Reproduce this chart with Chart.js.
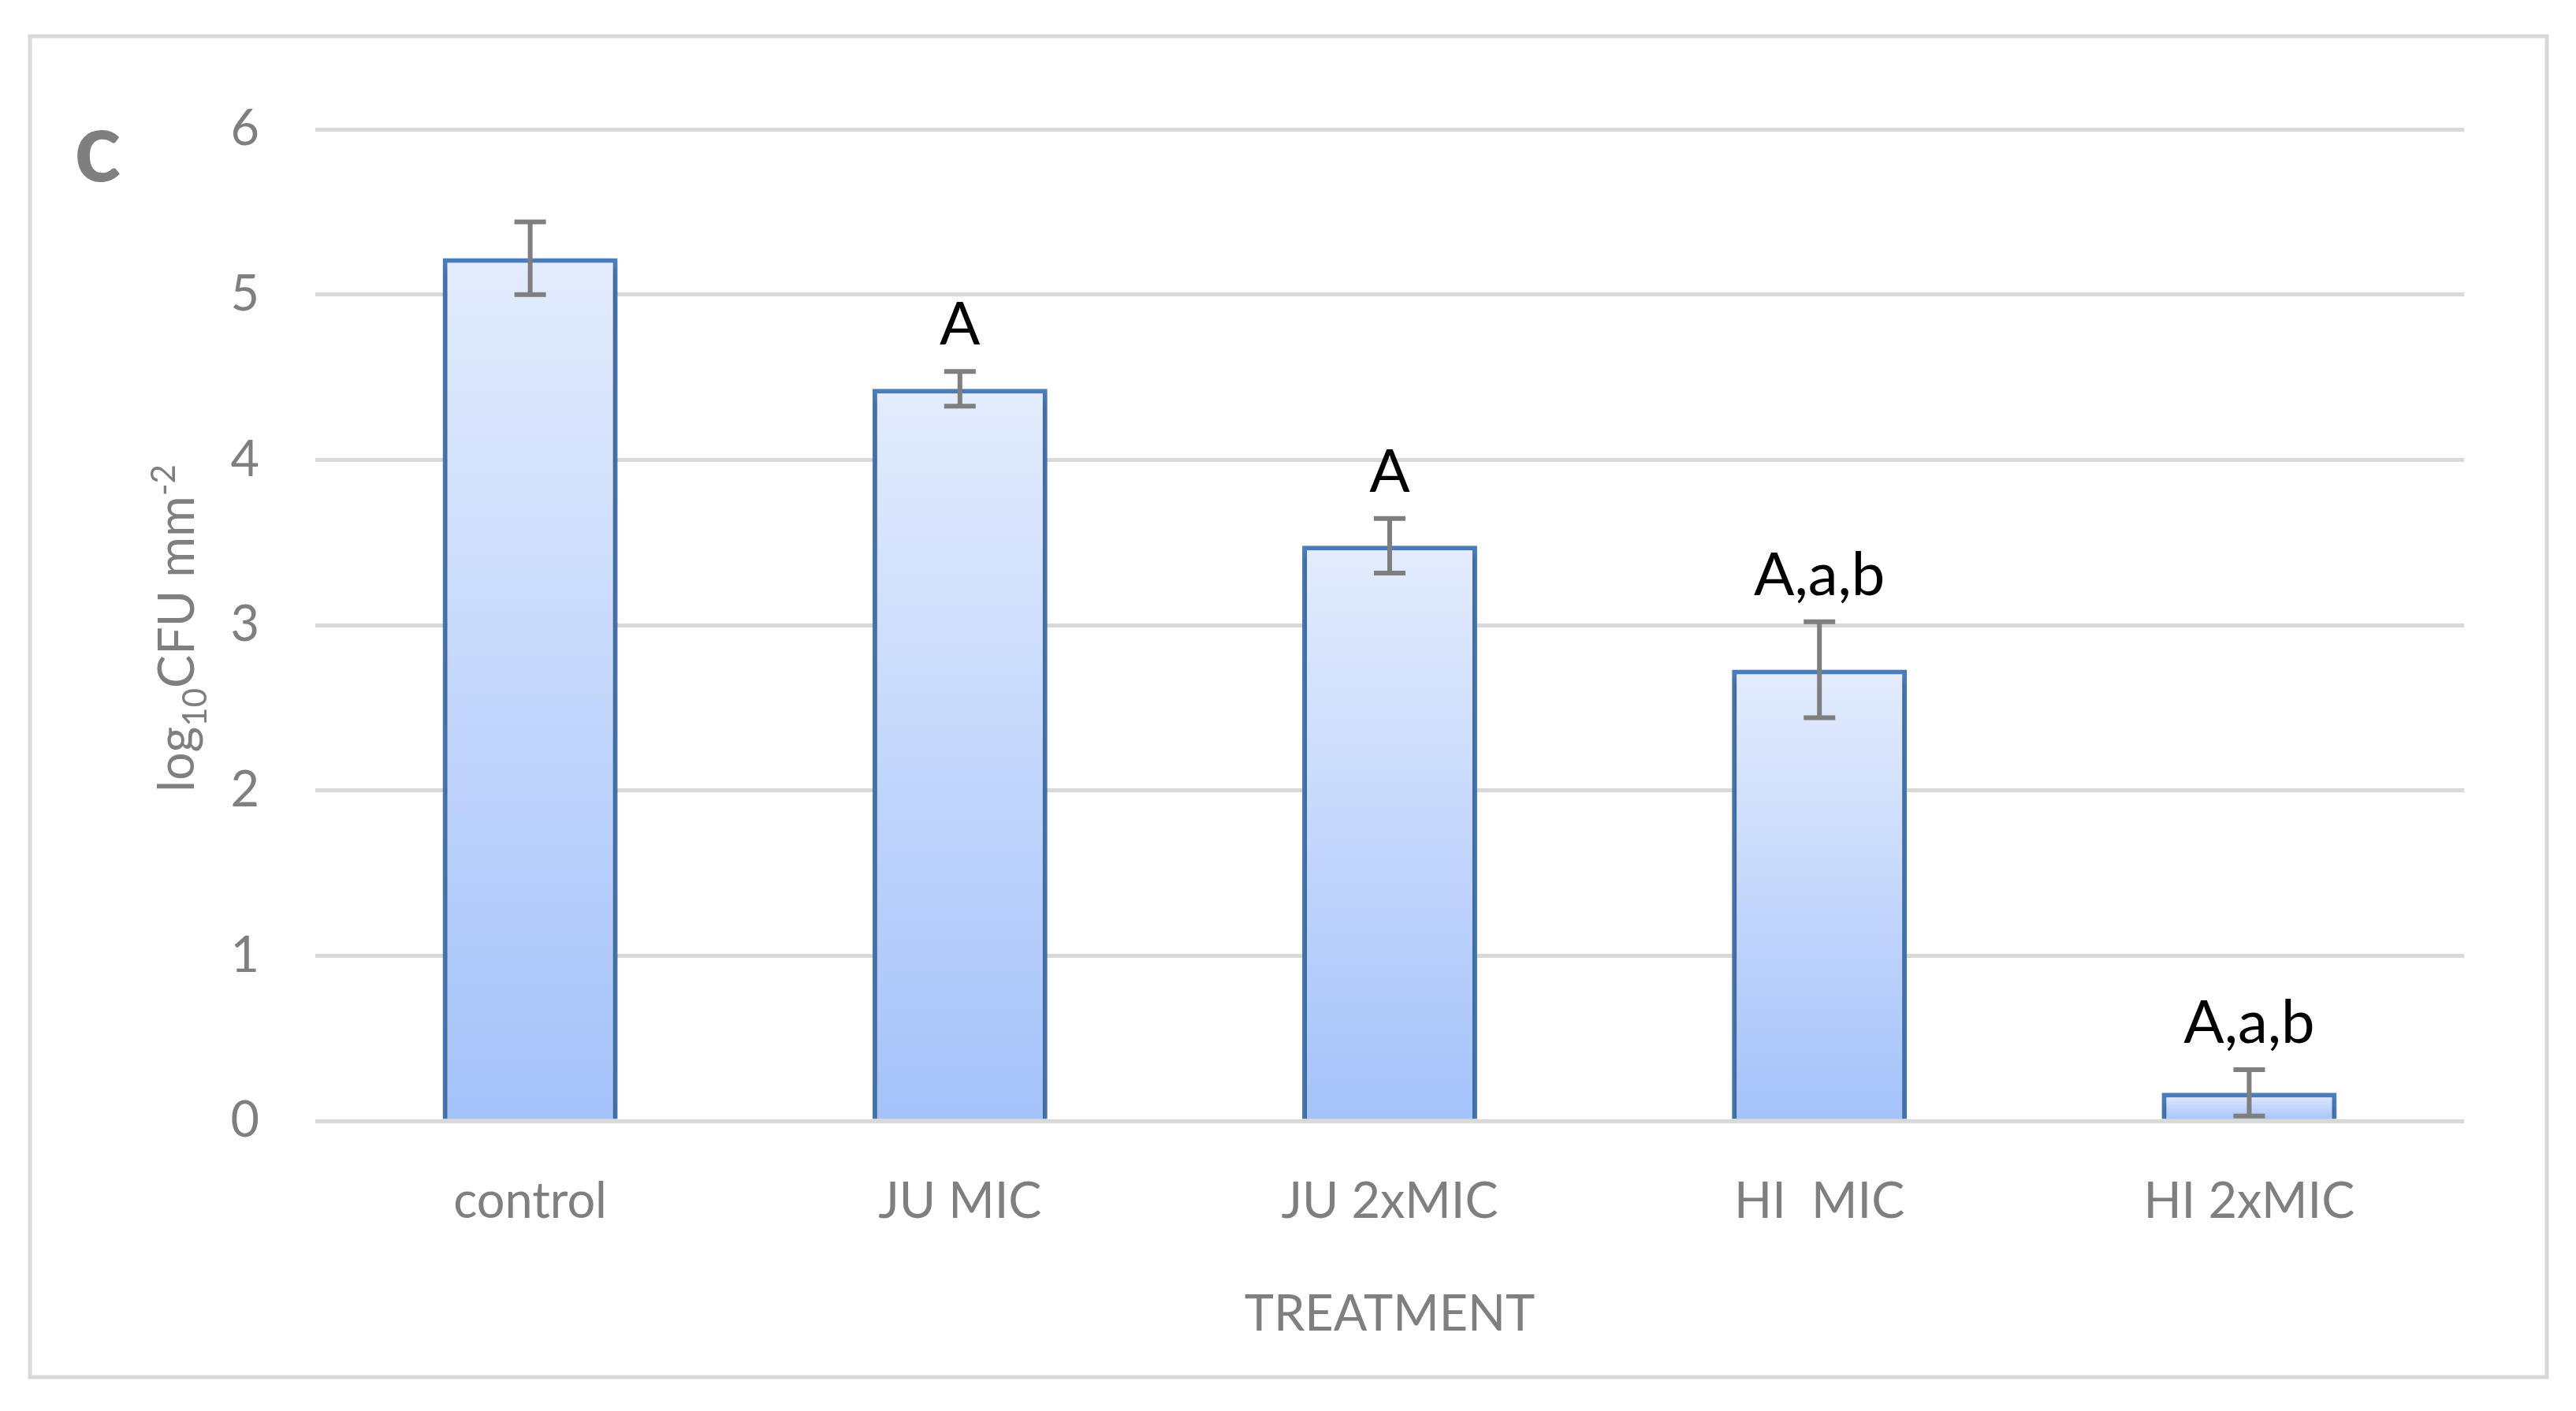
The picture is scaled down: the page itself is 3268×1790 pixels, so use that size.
<!DOCTYPE html>
<html>
<head>
<meta charset="utf-8">
<script src="https://cdn.jsdelivr.net/npm/chart.js@4"></script>
<style>
  html, body { margin: 0; padding: 0; background: #fff; }
</style>
</head>
<body>
<canvas id="myChart" width="3268" height="1790"></canvas>
<script>
const xValues = ["control", "JU MIC", "JU 2xMIC", "HI  MIC", "HI 2xMIC"];
const yValues = [5.22, 4.43, 3.48, 2.73, 0.17];
const yErrors = [0.22, 0.105, 0.165, 0.29, 0.14];
const letters = ["", "A", "A", "A,a,b", "A,a,b"];
const yTicks = [0, 1, 2, 3, 4, 5, 6];

const grey = "#7f7f7f";
const fontName = "Lato";

// frame, panel letter and the y title (needs sub/superscript)
const decorations = {
    id: "decorations",
    beforeDraw(chart) {
        const ctx = chart.ctx;
        ctx.save();
        ctx.fillStyle = "#fff";
        ctx.fillRect(0, 0, chart.width, chart.height);
        ctx.strokeStyle = "#d9d9d9";
        ctx.lineWidth = 5;
        ctx.strokeRect(38, 46, 3193, 1701);

        ctx.fillStyle = grey;
        ctx.font = "bold 124px " + fontName;
        ctx.textAlign = "center";
        ctx.textBaseline = "alphabetic";
        ctx.fillText("c", 124, 230);

        // rotated axis title: log10CFU mm-2
        const parts = [
            { t: "log", size: 63, dy: 24 },
            { t: "10", size: 42, dy: 40 },
            { t: "CFU mm", size: 63, dy: 24 },
            { t: "-2", size: 42, dy: 0 }
        ];
        let total = 0;
        parts.forEach(p => {
            ctx.font = p.size + "px " + fontName;
            p.w = ctx.measureText(p.t).width;
            total += p.w;
        });
        ctx.translate(222, 797);
        ctx.rotate(-Math.PI / 2);
        ctx.textAlign = "left";
        let x = -total / 2;
        parts.forEach(p => {
            ctx.font = p.size + "px " + fontName;
            ctx.fillText(p.t, x, p.dy);
            x += p.w;
        });
        ctx.restore();
    },
    beforeDatasetDraw(chart) {
        const ctx = chart.ctx;
        ctx.save();
        ctx.shadowColor = "rgba(0,0,0,0.35)";
        ctx.shadowBlur = 10;
        ctx.shadowOffsetY = 7;
    },
    afterDatasetDraw(chart) {
        chart.ctx.restore();
    },
    afterDatasetsDraw(chart) {
        const ctx = chart.ctx;
        const y = chart.scales.y;
        const meta = chart.getDatasetMeta(0);
        ctx.save();
        ctx.strokeStyle = grey;
        ctx.lineWidth = 6;
        meta.data.forEach((bar, i) => {
            const top = y.getPixelForValue(yValues[i] + yErrors[i]);
            const bot = y.getPixelForValue(yValues[i] - yErrors[i]);
            ctx.beginPath();
            ctx.moveTo(bar.x, top);
            ctx.lineTo(bar.x, bot);
            ctx.moveTo(bar.x - 20, top);
            ctx.lineTo(bar.x + 20, top);
            ctx.moveTo(bar.x - 20, bot);
            ctx.lineTo(bar.x + 20, bot);
            ctx.stroke();

            ctx.fillStyle = "#000";
            ctx.font = "76px " + fontName;
            ctx.textAlign = "center";
            ctx.textBaseline = "alphabetic";
            ctx.fillText(letters[i], bar.x, top - 34);
        });
        ctx.restore();
    }
};

new Chart("myChart", {
    type: "bar",
    data: {
        labels: xValues,
        datasets: [{
            data: yValues,
            backgroundColor: function (context) {
                const chart = context.chart;
                if (!chart.chartArea || context.dataIndex === undefined) return "#c4d8fc";
                const y = chart.scales.y;
                const top = y.getPixelForValue(yValues[context.dataIndex]);
                const base = y.getPixelForValue(0);
                const g = chart.ctx.createLinearGradient(0, top, 0, base);
                g.addColorStop(0, "#e4ecfd");
                g.addColorStop(1, "#a4c2fa");
                return g;
            },
            borderColor: "#4a7ebb",
            borderWidth: 6,
            borderSkipped: "bottom",
            barPercentage: 0.407,
            categoryPercentage: 1
        }]
    },
    options: {
        responsive: false,
        devicePixelRatio: 1,
        animation: false,
        layout: { padding: { left: 0, right: 142, top: 164, bottom: 0 } },
        plugins: {
            legend: { display: false },
            tooltip: { enabled: false }
        },
        scales: {
            x: {
                grid: { display: false },
                border: { display: false },
                ticks: {
                    color: grey,
                    font: { family: fontName, size: 63 },
                    padding: 57
                },
                title: {
                    display: true,
                    text: "TREATMENT",
                    color: grey,
                    font: { family: fontName, size: 63 },
                    padding: { top: 0, bottom: 85 }
                },
                afterFit(scale) { scale.height = 368; }
            },
            y: {
                min: 0,
                max: 6,
                afterBuildTicks(scale) {
                    scale.ticks = yTicks.map(v => ({ value: v }));
                },
                grid: { color: "#d9d9d9", lineWidth: 5, drawTicks: false },
                border: { display: false },
                ticks: {
                    color: grey,
                    font: { family: fontName, size: 63 },
                    padding: 71
                },
                afterFit(scale) { scale.width = 400; }
            }
        }
    },
    plugins: [decorations]
});
</script>
</body>
</html>
